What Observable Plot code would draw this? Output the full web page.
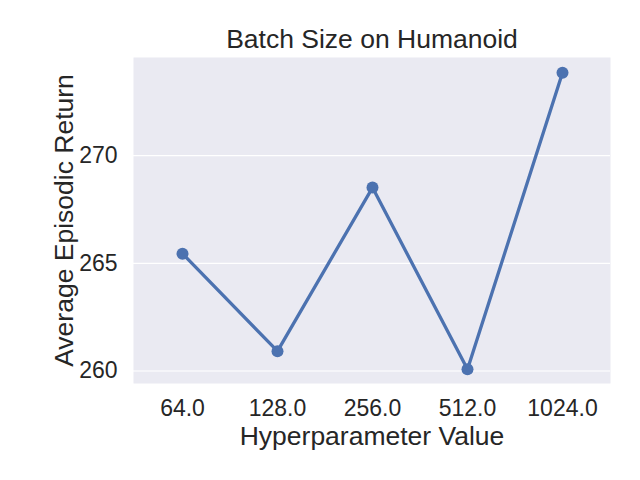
<!DOCTYPE html>
<html>
<head>
<meta charset="utf-8">
<script src="https://cdn.jsdelivr.net/npm/d3@7"></script>
<script src="https://cdn.jsdelivr.net/npm/@observablehq/plot@0.6"></script>
<style>
  html, body { margin: 0; padding: 0; background: #fff; }
  svg { display: block; }
</style>
</head>
<body>
<div id="chart"></div>
<script>
const batchSizes = ["64.0", "128.0", "256.0", "512.0", "1024.0"];
const returns = [265.45, 260.92, 268.52, 260.08, 273.85];
const yTicks = [260, 265, 270];
const titleText = "Batch Size on Humanoid";
const xLabel = "Hyperparameter Value";
const yLabel = "Average Episodic Return";

const data = batchSizes.map((b, i) => ({batch: b, ret: returns[i]}));

const chart = Plot.plot({
  width: 640,
  height: 480,
  marginLeft: 133,
  marginRight: 30,
  marginTop: 57,
  marginBottom: 97,
  style: {fontFamily: "'Liberation Sans', Arial, sans-serif", fontSize: "23px", color: "#262626", background: "#fff", overflow: "visible"},
  x: {type: "point", domain: batchSizes, padding: 0.5, label: null},
  y: {domain: [259.42, 274.56], label: null},
  marks: [
    Plot.frame({fill: "#eaeaf2", stroke: null}),
    Plot.gridY(yTicks, {stroke: "#fff", strokeOpacity: 1, strokeWidth: 1.2}),
    Plot.axisX({tickSize: 0, tickPadding: 16, fontSize: 23, fill: "#262626"}),
    Plot.axisY(yTicks, {tickSize: 0, tickPadding: 16, fontSize: 23, fill: "#262626"}),
    Plot.text([xLabel], {frameAnchor: "bottom", lineAnchor: "middle", dy: 53, fontSize: 26.5, fill: "#262626"}),
    Plot.text([yLabel], {frameAnchor: "left", textAnchor: "middle", lineAnchor: "middle", dx: -69, rotate: -90, fontSize: 26.5, fill: "#262626"}),
    Plot.text([titleText], {frameAnchor: "top", lineAnchor: "middle", dy: -17.5, fontSize: 26.5, fill: "#262626"}),
    Plot.line(data, {x: "batch", y: "ret", stroke: "#4c72b0", strokeWidth: 3.3}),
    Plot.dot(data, {x: "batch", y: "ret", fill: "#4c72b0", r: 6})
  ]
});
document.getElementById("chart").appendChild(chart);
</script>
</body>
</html>
